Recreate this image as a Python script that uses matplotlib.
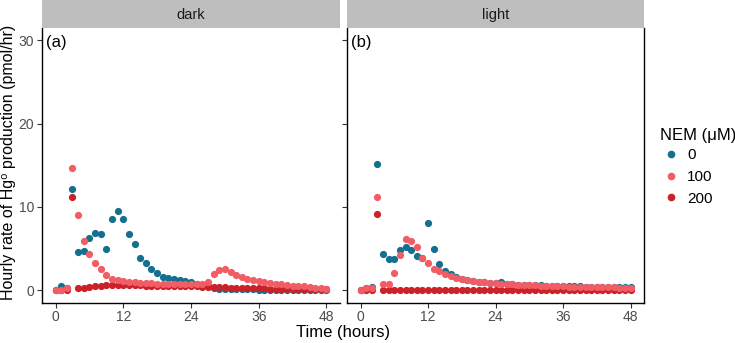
import numpy as np
import matplotlib
matplotlib.use("Agg")
import matplotlib.pyplot as plt
from matplotlib.lines import Line2D

plt.rcParams['font.family'] = ['Liberation Sans', 'DejaVu Sans']

# data: hourly rate, hours 0..48
hours = np.arange(49)
nem_levels = ['0', '100', '200']
colors = {'0': '#15708f', '100': '#f25c64', '200': '#cb2128'}

dark_0 = [0.0, 0.45, 0.3, 12.1, 4.6, 4.7, 6.3, 6.9, 6.7, 5.0,
          8.5, 9.5, 8.6, 6.7, 5.5, 3.9, 3.3, 2.5, 2.1, 1.6,
          1.5, 1.3, 1.2, 1.1, 0.95, 0.8, 0.6, 0.45, 0.3, 0.2,
          0.15, 0.12, 0.1, 0.1, 0.1, 0.1, 0.08, 0.08, 0.08, 0.07,
          0.07, 0.06, 0.06, 0.06, 0.05, 0.05, 0.05, 0.05, 0.05]
dark_100 = [0.0, 0.0, 0.3, 14.7, 9.0, 5.9, 4.3, 3.3, 2.5, 1.8,
            1.4, 1.2, 1.1, 1.0, 0.95, 0.9, 0.85, 0.82, 0.8, 0.78,
            0.75, 0.72, 0.7, 0.7, 0.72, 0.75, 0.8, 1.0, 1.9, 2.4,
            2.5, 2.2, 1.8, 1.6, 1.4, 1.25, 1.1, 1.0, 0.9, 0.8,
            0.75, 0.65, 0.55, 0.5, 0.45, 0.35, 0.3, 0.22, 0.15]
dark_200 = [0.0, 0.0, 0.0, 11.2, 0.3, 0.3, 0.35, 0.45, 0.55, 0.6,
            0.65, 0.65, 0.62, 0.6, 0.6, 0.58, 0.56, 0.55, 0.54, 0.53,
            0.52, 0.5, 0.5, 0.48, 0.46, 0.45, 0.43, 0.4, 0.38, 0.35,
            0.33, 0.3, 0.3, 0.28, 0.26, 0.25, 0.24, 0.22, 0.2, 0.2,
            0.18, 0.17, 0.15, 0.14, 0.13, 0.12, 0.11, 0.1, 0.1]

light_0 = [0.0, 0.3, 0.35, 15.1, 4.3, 3.7, 3.8, 4.8, 5.2, 4.8,
           4.1, 3.9, 8.1, 5.0, 3.2, 2.3, 1.9, 1.6, 1.4, 1.25,
           1.1, 1.0, 0.95, 0.9, 0.85, 0.95, 0.75, 0.7, 0.68, 0.65,
           0.62, 0.6, 0.58, 0.56, 0.54, 0.52, 0.5, 0.48, 0.46, 0.45,
           0.44, 0.42, 0.41, 0.4, 0.39, 0.38, 0.37, 0.36, 0.35]
light_100 = [0.0, 0.25, 0.3, 11.2, 0.7, 0.8, 2.1, 4.2, 6.2, 5.9,
             5.2, 3.9, 3.3, 2.6, 2.3, 1.9, 1.7, 1.5, 1.35, 1.2,
             1.1, 1.0, 0.95, 0.9, 0.85, 0.8, 0.75, 0.7, 0.65, 0.62,
             0.6, 0.57, 0.55, 0.52, 0.5, 0.48, 0.46, 0.44, 0.42, 0.4,
             0.38, 0.37, 0.36, 0.35, 0.34, 0.33, 0.32, 0.31, 0.3]
light_200 = [0.0, 0.0, 0.0, 9.1] + [0.08] * 45

panels = [
    ('dark', '(a)', {'0': dark_0, '100': dark_100, '200': dark_200}),
    ('light', '(b)', {'0': light_0, '100': light_100, '200': light_200}),
]

W, H = 735, 343
fig = plt.figure(figsize=(W / 100, H / 100), dpi=100)

def px_axes(x0, y0, x1, y1):
    return fig.add_axes([x0 / W, 1 - y1 / H, (x1 - x0) / W, (y1 - y0) / H])

boxes = [(42, 340), (347, 644)]
top, bottom, strip_top = 27.7, 302.7, 0
draw_order = ['0', '200', '100']

for i, ((name, tag, series), (xa, xb)) in enumerate(zip(panels, boxes)):
    ax = px_axes(xa, top, xb, bottom)
    for lvl in draw_order:
        ax.scatter(hours, series[lvl], s=27, color=colors[lvl], linewidths=0, zorder=3)
    ax.set_xlim(-2.4, 50.4)
    ax.set_ylim(-1.5, 31.5)
    ax.set_xticks([0, 12, 24, 36, 48])
    ax.set_yticks([0, 10, 20, 30])
    ax.tick_params(length=3.5, width=0.8, color='#333333', labelcolor='#4d4d4d',
                   labelsize=10, pad=2)
    ax.spines['top'].set_visible(False)
    ax.spines['right'].set_visible(i == 1)
    for sp in ax.spines.values():
        sp.set_linewidth(1.0)
        sp.set_color('black')
    if i == 1:
        ax.set_yticklabels([])
    ax.text(0.015, 0.975, tag, transform=ax.transAxes, ha='left', va='top', fontsize=12)

    st = px_axes(xa, strip_top, xb, top)
    st.set_facecolor('#bebebe')
    st.set_xticks([])
    st.set_yticks([])
    for sp in st.spines.values():
        sp.set_visible(False)
    st.text(0.5, 0.45, name, transform=st.transAxes, ha='center', va='center',
            fontsize=10.5, color='#1a1a1a')

fig.text(1 / W, 1 - 162 / H, 'Hourly rate of Hg\u2070 production (pmol/hr)',
         rotation=90, ha='left', va='center', fontsize=11.5)
fig.text(343 / W, 1 - 332 / H, 'Time (hours)', ha='center', va='center', fontsize=12)

handles = [Line2D([], [], marker='o', linestyle='', markersize=5.5,
                  markerfacecolor=colors[l], markeredgewidth=0) for l in nem_levels]
leg = fig.legend(handles, nem_levels, title='NEM (μM)', loc='upper left',
                 bbox_to_anchor=(646 / W, 1 - 114 / H), frameon=False,
                 fontsize=11, title_fontsize=12, handletextpad=0.3,
                 labelspacing=0.5, handlelength=1.5)
leg._legend_box.align = 'left'
leg._legend_box.sep = 4

fig.savefig('out.png', dpi=100)
